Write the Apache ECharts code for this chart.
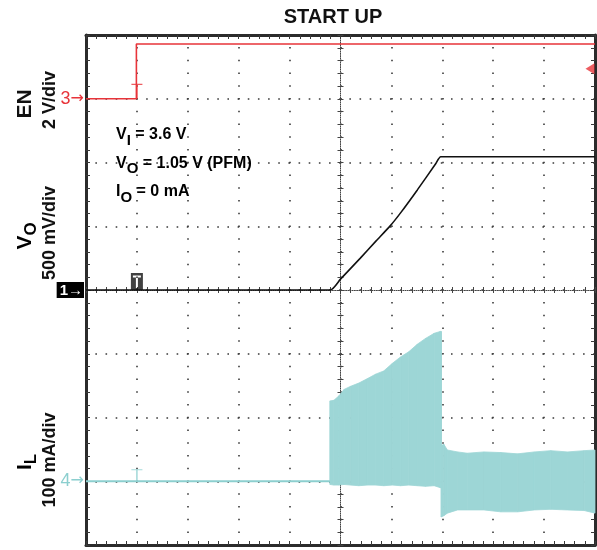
<!DOCTYPE html>
<html><head><meta charset="utf-8">
<script src="https://cdn.jsdelivr.net/npm/echarts@6/dist/echarts.min.js"></script>
<style>html,body{margin:0;padding:0;background:#fff}#c{width:597px;height:550px}</style>
</head><body><div id="c"></div>
<script>
// ---- data (in screen divisions: x 0..10, y 0..8 from bottom) ----
const enX = [0, 0.99, 0.99, 10];
const enY = [7.0, 7.0, 7.86, 7.86];
const voX = [0, 4.80, 5.00, 5.39, 5.70, 5.98, 6.18, 6.51, 6.87, 6.97, 10];
const voY = [4.0, 4.0, 4.17, 4.50, 4.77, 5.01, 5.21, 5.57, 5.98, 6.09, 6.09];
const ilBaseX = [0, 4.79];
const ilBaseY = [1.0, 1.0];
const bandX    = [4.79, 4.87, 4.97, 5.07, 5.20, 5.36, 5.53, 5.69, 5.85, 6.02, 6.18, 6.34, 6.51, 6.67, 6.84, 6.96, 6.98, 6.98, 7.03, 7.10, 7.30, 7.49, 7.82, 8.15, 8.48, 8.81, 9.13, 9.46, 9.79, 10.0];
const bandHigh = [2.26, 2.27, 2.34, 2.44, 2.49, 2.54, 2.61, 2.68, 2.73, 2.85, 2.95, 3.03, 3.15, 3.24, 3.32, 3.35, 3.35, 1.56, 1.58, 1.49, 1.46, 1.44, 1.46, 1.45, 1.43, 1.46, 1.48, 1.46, 1.48, 1.49];
const bandLow  = [0.95, 0.94, 0.94, 0.95, 0.94, 0.93, 0.94, 0.94, 0.93, 0.94, 0.93, 0.94, 0.93, 0.92, 0.93, 0.90, 0.90, 0.44, 0.46, 0.50, 0.55, 0.55, 0.55, 0.52, 0.52, 0.55, 0.56, 0.55, 0.54, 0.50];
const trigTime = 1.0;
const chLevels = { en: 7, vo: 4, il: 1 };
const enTrigLevel = 7.47;
const chLabels = { 7: '3', 4: '1', 1: '4' };

const FONT = "'Liberation Sans', Arial, sans-serif";
const RED = '#e8343a', CYAN = '#9dd6d6', CYANL = '#8ccfcf', GRIDC = '#3a3a3a';
const zip = (a, b) => a.map((v, i) => [v, b[i]]);

const chart = echarts.init(document.getElementById('c'), null, { renderer: 'canvas' });
const rect = { left: 86, top: 35, width: 509, height: 510 };

function frameAxis(extra) {
  return Object.assign({
    type: 'value', gridIndex: 0, interval: 1,
    axisLine: { show: true, onZero: false, lineStyle: { color: '#2b2b2b', width: 3 } },
    axisTick: { show: true, inside: true, length: 4, lineStyle: { color: GRIDC, width: 1 } },
    minorTick: { show: true, splitNumber: 5, length: 4, lineStyle: { color: GRIDC, width: 1 } },
    axisLabel: { show: false },
    splitLine: { show: false }
  }, extra);
}
function centerAxis(extra, inside, lineShow) {
  return Object.assign({
    type: 'value', interval: 1,
    axisLine: { show: true, onZero: true, lineStyle: { color: '#444', width: 1, type: [1, 1.2], opacity: lineShow ? 1 : 0 } },
    axisTick: { show: true, inside: inside, length: 3, lineStyle: { color: '#444', width: 1 } },
    minorTick: { show: true, splitNumber: 5, length: 3, lineStyle: { color: '#444', width: 1 } },
    axisLabel: { show: false },
    splitLine: { show: false }
  }, extra);
}

const subRich = (big, small, off, color) => ({
  b: { fontSize: big, fontWeight: 'bold', fontFamily: FONT, color: color, lineHeight: big + 2, verticalAlign: 'top' },
  s: { fontSize: small, fontWeight: 'bold', fontFamily: FONT, color: color, lineHeight: small + 2, padding: [off, 0, 0, 0], verticalAlign: 'top' }
});

const option = {
  animation: false,
  backgroundColor: '#fff',
  grid: [Object.assign({}, rect), Object.assign({}, rect), Object.assign({}, rect)],
  xAxis: [
    frameAxis({ position: 'bottom', min: 0, max: 10,
      splitLine: { show: true, lineStyle: { color: GRIDC, width: 1.6, type: [1.6, 11.15], dashOffset: 0.8 } } }),
    frameAxis({ position: 'top', min: 0, max: 10 }),
    centerAxis({ gridIndex: 1, min: -5, max: 5 }, false, true),
    centerAxis({ gridIndex: 2, min: -5, max: 5 }, true, false)
  ],
  yAxis: [
    frameAxis({ position: 'left', min: 0, max: 8,
      splitLine: { show: true, lineStyle: { color: GRIDC, width: 1.6, type: [1.6, 8.56], dashOffset: 0.8 } },
      axisLabel: {
        show: true, margin: 2, fontFamily: FONT,
        formatter: v => v === chLevels.en ? '{r|' + chLabels[v] + '}{ra|→}' : v === chLevels.vo ? '{k|' + chLabels[v] + '→}' : v === chLevels.il ? '{c|' + chLabels[v] + '}{ca|→}' : '',
        rich: {
          r: { color: RED, fontSize: 18, fontFamily: FONT },
          ra: { color: RED, fontSize: 16, fontFamily: 'DejaVu Sans' },
          k: { color: '#fff', backgroundColor: '#000', fontSize: 15, fontWeight: 'bold', fontFamily: FONT, lineHeight: 17, padding: [1, 1, 0, 3] },
          c: { color: CYANL, fontSize: 18, fontFamily: FONT },
          ca: { color: CYANL, fontSize: 16, fontFamily: 'DejaVu Sans' }
        }
      } }),
    frameAxis({ position: 'right', min: 0, max: 8 }),
    centerAxis({ gridIndex: 1, min: -4, max: 4 }, false, true),
    centerAxis({ gridIndex: 2, min: -4, max: 4 }, true, false)
  ],
  series: [
    { type: 'line', name: 'IL base', data: zip(ilBaseX, ilBaseY), symbol: 'none',
      lineStyle: { color: CYANL, width: 2 }, z: 3 },
    { type: 'custom', name: 'IL band', coordinateSystem: 'cartesian2d', xAxisIndex: 0, yAxisIndex: 0, z: 3,
      data: bandX.map((x, i) => [x, bandLow[i], bandHigh[i]]),
      encode: { x: 0, y: [1, 2] },
      renderItem: (params, api) => {
        const i = params.dataIndex;
        if (i >= bandX.length - 1) return;
        const pts = [
          api.coord([api.value(0), api.value(1)]),
          api.coord([api.value(0), api.value(2)]),
          api.coord([bandX[i + 1], bandHigh[i + 1]]),
          api.coord([bandX[i + 1], bandLow[i + 1]])
        ];
        return { type: 'polygon', shape: { points: pts }, style: { fill: CYAN, stroke: CYAN, lineWidth: 0.8 } };
      } },
    { type: 'line', name: 'VO', data: zip(voX, voY), symbol: 'none', smooth: 0.2,
      lineStyle: { color: '#111', width: 1.6 }, z: 5 },
    { type: 'line', name: 'EN', data: zip(enX, enY), symbol: 'none',
      lineStyle: { color: RED, width: 1.6 }, z: 6 },
    { type: 'scatter', name: 'trig', z: 7,
      data: [
        { value: [trigTime, chLevels.en], symbol: 'path://M0,0 L10,0 L10,1.4 L5.7,1.4 L5.7,16 L4.3,16 L4.3,1.4 L0,1.4 Z', symbolSize: [11, 15], symbolOffset: [0, '-50%'], itemStyle: { color: RED } },
        { value: [trigTime, chLevels.il], symbol: 'path://M0,0 L10,0 L10,1.4 L5.7,1.4 L5.7,16 L4.3,16 L4.3,1.4 L0,1.4 Z', symbolSize: [11, 12], symbolOffset: [0, '-50%'], itemStyle: { color: CYANL } },
        { value: [trigTime, chLevels.vo], symbol: 'path://M0,0 L12,0 L12,17 L0,17 Z M2,2.5 L2,4.5 L5,4.5 L5,15 L7,15 L7,4.5 L10,4.5 L10,2.5 Z', symbolSize: [12, 17], symbolOffset: [0, '-50%'], itemStyle: { color: '#111' } },
        { value: [10, enTrigLevel], symbol: 'triangle', symbolRotate: 90, symbolSize: [11, 9], symbolOffset: [-5, 0], itemStyle: { color: RED } }
      ] }
  ],
  graphic: [
    { type: 'text', x: 333, y: 17, style: { text: 'START UP', font: 'bold 20px ' + FONT, fill: '#111', textAlign: 'center', textVerticalAlign: 'middle' } },
    { type: 'text', x: 25, y: 104, rotation: Math.PI / 2, style: { text: 'EN', font: 'bold 21px ' + FONT, fill: '#111', textAlign: 'center', textVerticalAlign: 'middle' } },
    { type: 'text', x: 50, y: 100, rotation: Math.PI / 2, style: { text: '2 V/div', font: 'bold 18px ' + FONT, fill: '#111', textAlign: 'center', textVerticalAlign: 'middle' } },
    { type: 'text', x: 26, y: 236, rotation: Math.PI / 2, style: { text: '{b|V}{s|O}', textAlign: 'center', textVerticalAlign: 'middle', rich: subRich(21, 17, 8, '#111') } },
    { type: 'text', x: 50, y: 233, rotation: Math.PI / 2, style: { text: '500 mV/div', font: 'bold 18px ' + FONT, fill: '#111', textAlign: 'center', textVerticalAlign: 'middle' } },
    { type: 'text', x: 26, y: 462, rotation: Math.PI / 2, style: { text: '{b|I}{s|L}', textAlign: 'center', textVerticalAlign: 'middle', rich: subRich(21, 17, 8, '#111') } },
    { type: 'text', x: 50, y: 460, rotation: Math.PI / 2, style: { text: '100 mA/div', font: 'bold 18px ' + FONT, fill: '#111', textAlign: 'center', textVerticalAlign: 'middle' } },
    { type: 'text', x: 116, y: 127, z: 20, style: { text: '{b|V}{s|I}{b| = 3.6 V}', textVerticalAlign: 'top', rich: subRich(16, 15, 6, '#222') } },
    { type: 'text', x: 116, y: 155.5, z: 20, style: { text: '{b|V}{s|O}{b| = 1.05 V (PFM)}', textVerticalAlign: 'top', rich: subRich(16, 15, 6, '#222') } },
    { type: 'text', x: 116, y: 184, z: 20, style: { text: '{b|I}{s|O}{b| = 0 mA}', textVerticalAlign: 'top', rich: subRich(16, 15, 6, '#222') } }
  ]
};
chart.setOption(option);
</script>
</body></html>
